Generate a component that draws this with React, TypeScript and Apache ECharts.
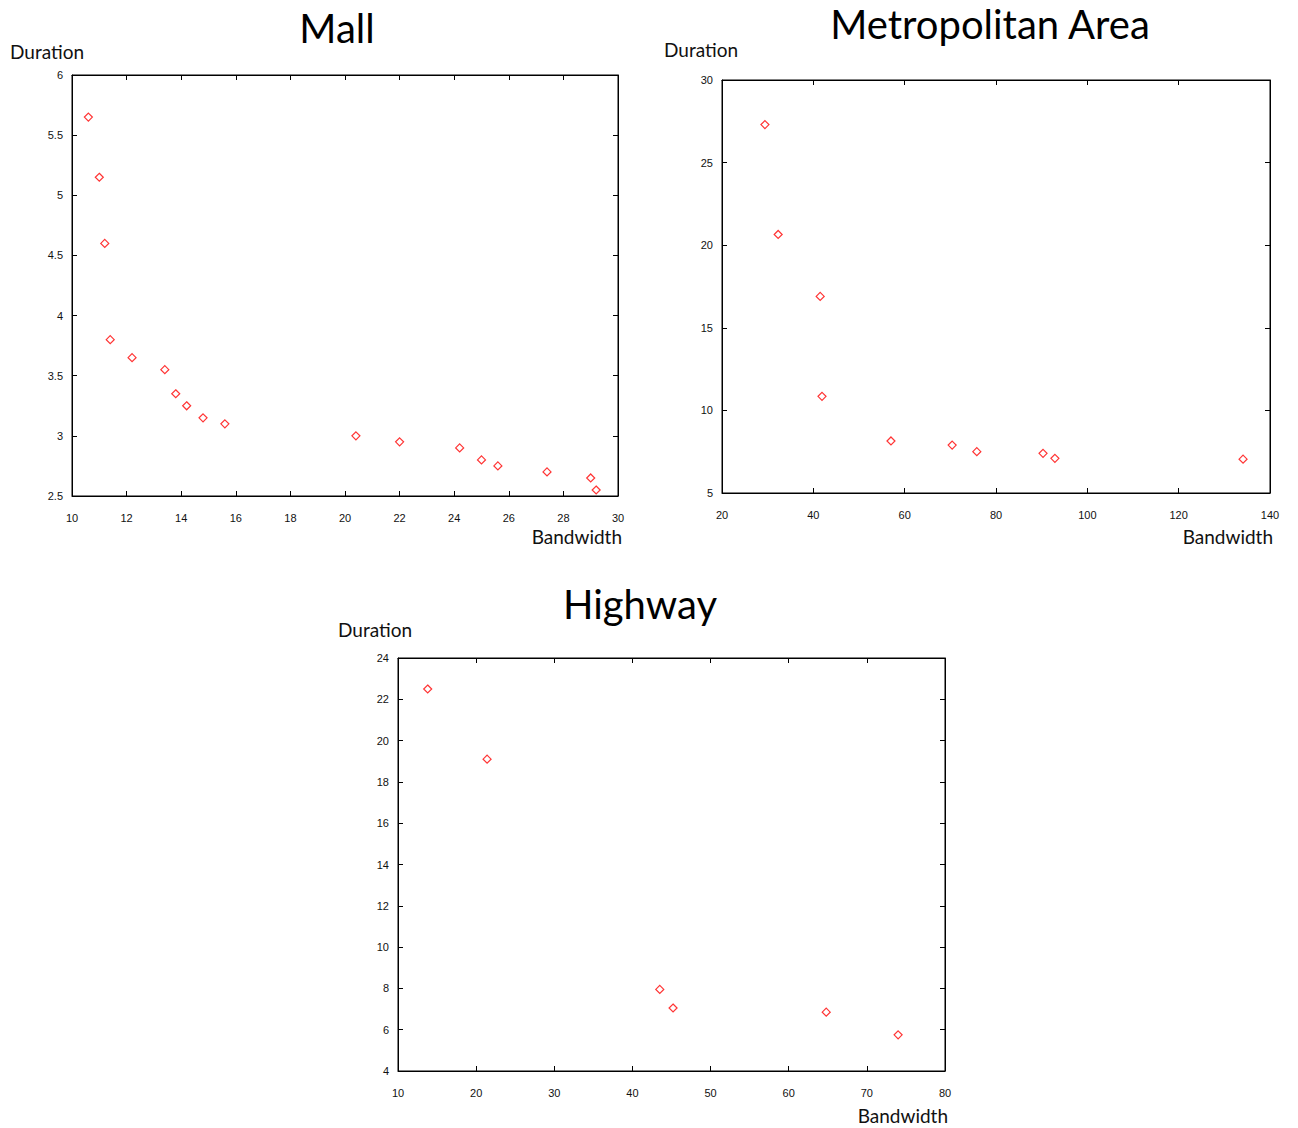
import React, { useEffect, useRef } from "react";
import * as echarts from "echarts";

const mallBandwidth = [10.6, 11.0, 11.2, 11.4, 12.2, 13.4, 13.8, 14.2, 14.8, 15.6, 20.4, 22.0, 24.2, 25.0, 25.6, 27.4, 29.0, 29.2];
const mallDuration = [5.65, 5.15, 4.6, 3.8, 3.65, 3.55, 3.35, 3.25, 3.15, 3.1, 3.0, 2.95, 2.9, 2.8, 2.75, 2.7, 2.65, 2.55];

const metroBandwidth = [29.4, 32.3, 41.5, 41.9, 57.0, 70.4, 75.8, 90.3, 92.9, 134.1];
const metroDuration = [27.3, 20.65, 16.9, 10.85, 8.15, 7.9, 7.5, 7.4, 7.1, 7.05];

const highwayBandwidth = [13.8, 21.4, 43.5, 45.2, 64.8, 74.0];
const highwayDuration = [22.5, 19.1, 7.95, 7.05, 6.85, 5.75];

const panelTitles = ["Mall", "Metropolitan Area", "Highway"];
const xAxisName = "Bandwidth";
const yAxisName = "Duration";

const panels = [
  { x: mallBandwidth, y: mallDuration, xMin: 10, xMax: 30, xInt: 2, yMin: 2.5, yMax: 6, yInt: 0.5,
    grid: { left: 72, top: 75, width: 546, height: 421 }, titleX: 337, titleY: 8, yNameX: 10, yNameY: 51, xNameR: 622, xNameY: 536 },
  { x: metroBandwidth, y: metroDuration, xMin: 20, xMax: 140, xInt: 20, yMin: 5, yMax: 30, yInt: 5,
    grid: { left: 722, top: 80, width: 548, height: 413 }, titleX: 990, titleY: 4, yNameX: 664, yNameY: 49, xNameR: 1273, xNameY: 536 },
  { x: highwayBandwidth, y: highwayDuration, xMin: 10, xMax: 80, xInt: 10, yMin: 4, yMax: 24, yInt: 2,
    grid: { left: 398, top: 658, width: 547, height: 413 }, titleX: 640, titleY: 584, yNameX: 338, yNameY: 629, xNameR: 948, xNameY: 1115 },
];

const tickFont = { fontFamily: "Liberation Sans", fontSize: 11, color: "#111" };
const labelFamily = "Lato";

export default function App() {
  const ref = useRef<HTMLDivElement>(null);
  useEffect(() => {
    document.body.style.margin = "0";
    const chart = echarts.init(ref.current!, null, { renderer: "svg" });
    const grids: any[] = [];
    const xAxes: any[] = [];
    const yAxes: any[] = [];
    const series: any[] = [];
    const graphics: any[] = [];
    panels.forEach((p, i) => {
      grids.push({ ...p.grid, show: true, borderColor: "#000", borderWidth: 1, containLabel: false });
      const baseX = {
        type: "value", gridIndex: i, min: p.xMin, max: p.xMax, interval: p.xInt,
        axisLine: { show: true, onZero: false, lineStyle: { color: "#000", width: 1 } },
        axisTick: { show: true, inside: true, length: 5, lineStyle: { color: "#000" } },
        splitLine: { show: false },
      };
      const baseY = {
        type: "value", gridIndex: i, min: p.yMin, max: p.yMax, interval: p.yInt,
        axisLine: { show: true, onZero: false, lineStyle: { color: "#000", width: 1 } },
        axisTick: { show: true, inside: true, length: 5, lineStyle: { color: "#000" } },
        splitLine: { show: false },
      };
      const xi = xAxes.length;
      xAxes.push({ ...baseX, position: "bottom", axisLabel: { ...tickFont, margin: 16 } });
      xAxes.push({ ...baseX, position: "top", axisLabel: { show: false } });
      const yi = yAxes.length;
      yAxes.push({ ...baseY, position: "left", axisLabel: { ...tickFont, margin: 9, padding: [4, 0, 0, 0] } });
      yAxes.push({ ...baseY, position: "right", axisLabel: { show: false } });
      series.push({
        type: "scatter", xAxisIndex: xi, yAxisIndex: yi,
        data: p.x.map((v, k) => [v, p.y[k]]),
        symbol: "diamond", symbolSize: 8,
        itemStyle: { color: "rgba(0,0,0,0)", borderColor: "#ff0000", borderWidth: 1.2 },
      });
      graphics.push({
        type: "text", x: p.titleX, y: p.titleY,
        style: { text: panelTitles[i], fontFamily: labelFamily, fontSize: 40, fill: "#000", textAlign: "center", textVerticalAlign: "top" },
      });
      graphics.push({
        type: "text", x: p.yNameX, y: p.yNameY,
        style: { text: yAxisName, fontFamily: labelFamily, fontSize: 19, fill: "#111", textAlign: "left", textVerticalAlign: "middle" },
      });
      graphics.push({
        type: "text", x: p.xNameR, y: p.xNameY,
        style: { text: xAxisName, fontFamily: labelFamily, fontSize: 19, fill: "#111", textAlign: "right", textVerticalAlign: "middle" },
      });
    });
    chart.setOption({
      animation: false,
      backgroundColor: "#fff",
      grid: grids,
      xAxis: xAxes,
      yAxis: yAxes,
      series,
      graphic: graphics,
    });
    return () => chart.dispose();
  }, []);
  return <div ref={ref} style={{ width: 1298, height: 1128 }} />;
}
